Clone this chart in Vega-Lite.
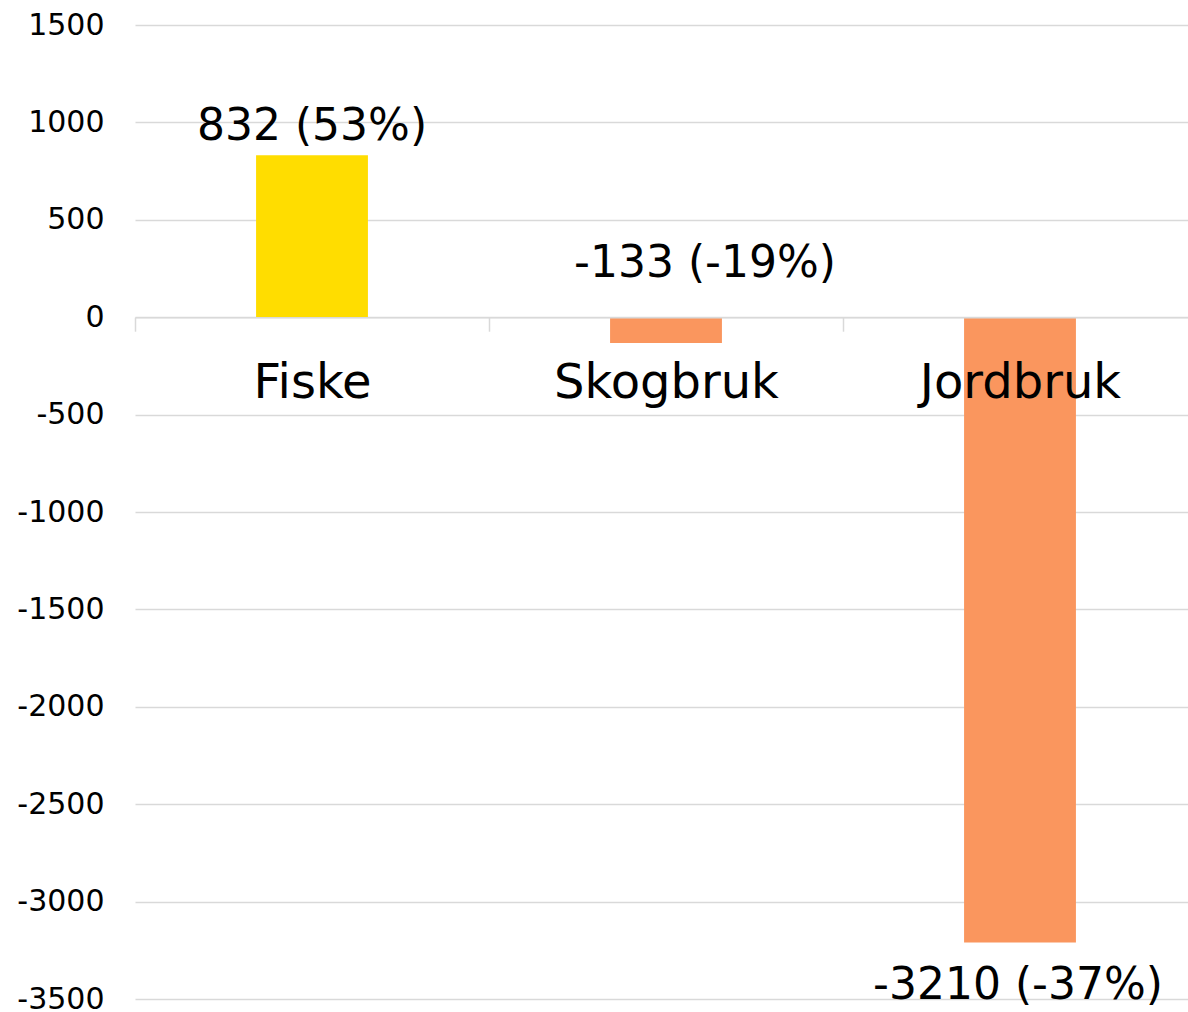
{
  "$schema": "https://vega.github.io/schema/vega-lite/v6.json",
  "autosize": {"type": "none"},
  "padding": {"left": 135, "top": 25, "right": 0, "bottom": 13},
  "width": 1062,
  "height": 974,
  "background": "white",
  "config": {
    "view": {"stroke": null},
    "font": "DejaVu Sans"
  },
  "data": {
    "values": [
      {"sektor": "Fiske", "endring": 832, "etikett": "832 (53%)", "fortegn": "pos"},
      {"sektor": "Skogbruk", "endring": -133, "etikett": "-133 (-19%)", "fortegn": "neg"},
      {"sektor": "Jordbruk", "endring": -3210, "etikett": "-3210 (-37%)", "fortegn": "neg"}
    ]
  },
  "encoding": {
    "x": {
      "field": "sektor",
      "type": "nominal",
      "sort": ["Fiske", "Skogbruk", "Jordbruk"],
      "scale": {"paddingInner": 0, "paddingOuter": 0},
      "axis": {
        "title": null,
        "orient": "bottom",
        "offset": -681.8,
        "zindex": 1,
        "grid": false,
        "domainColor": "#d9d9d9",
        "domainWidth": 1.5,
        "tickColor": "#d9d9d9",
        "tickWidth": 1.5,
        "tickSize": 14,
        "tickBand": "extent",
        "labelAngle": 0,
        "labelFontSize": 48,
        "labelColor": "#000000",
        "labelPadding": 28,
        "labelLimit": 0,
        "labelFont": "DejaVu Sans"
      }
    },
    "y": {
      "field": "endring",
      "type": "quantitative",
      "scale": {"domain": [-3500, 1500], "nice": false, "zero": false},
      "axis": {
        "title": null,
        "values": [-3500, -3000, -2500, -2000, -1500, -1000, -500, 0, 500, 1000, 1500],
        "labelExpr": "'' + datum.value",
        "grid": true,
        "gridColor": "#d9d9d9",
        "gridWidth": 1.5,
        "domain": false,
        "ticks": false,
        "labelFontSize": 30,
        "labelColor": "#000000",
        "labelPadding": 31,
        "labelLimit": 0,
        "labelFont": "DejaVu Sans"
      }
    }
  },
  "layer": [
    {
      "mark": {"type": "bar", "width": {"band": 0.316}},
      "encoding": {
        "color": {
          "field": "fortegn",
          "type": "nominal",
          "scale": {"domain": ["pos", "neg"], "range": ["#FFDD00", "#FA965E"]},
          "legend": null
        }
      }
    },
    {
      "transform": [{"filter": "datum.sektor === 'Fiske'"}],
      "mark": {"type": "text", "fontSize": 44, "baseline": "alphabetic", "align": "center", "dy": -15, "color": "#000000", "font": "DejaVu Sans"},
      "encoding": {"text": {"field": "etikett"}}
    },
    {
      "transform": [{"filter": "datum.sektor === 'Skogbruk'"}],
      "mark": {"type": "text", "fontSize": 44, "baseline": "alphabetic", "align": "center", "dy": -66, "dx": 39, "color": "#000000", "font": "DejaVu Sans"},
      "encoding": {"text": {"field": "etikett"}}
    },
    {
      "transform": [{"filter": "datum.sektor === 'Jordbruk'"}],
      "mark": {"type": "text", "fontSize": 44, "baseline": "alphabetic", "align": "center", "dy": 56, "dx": -2, "color": "#000000", "font": "DejaVu Sans"},
      "encoding": {"text": {"field": "etikett"}}
    }
  ]
}
